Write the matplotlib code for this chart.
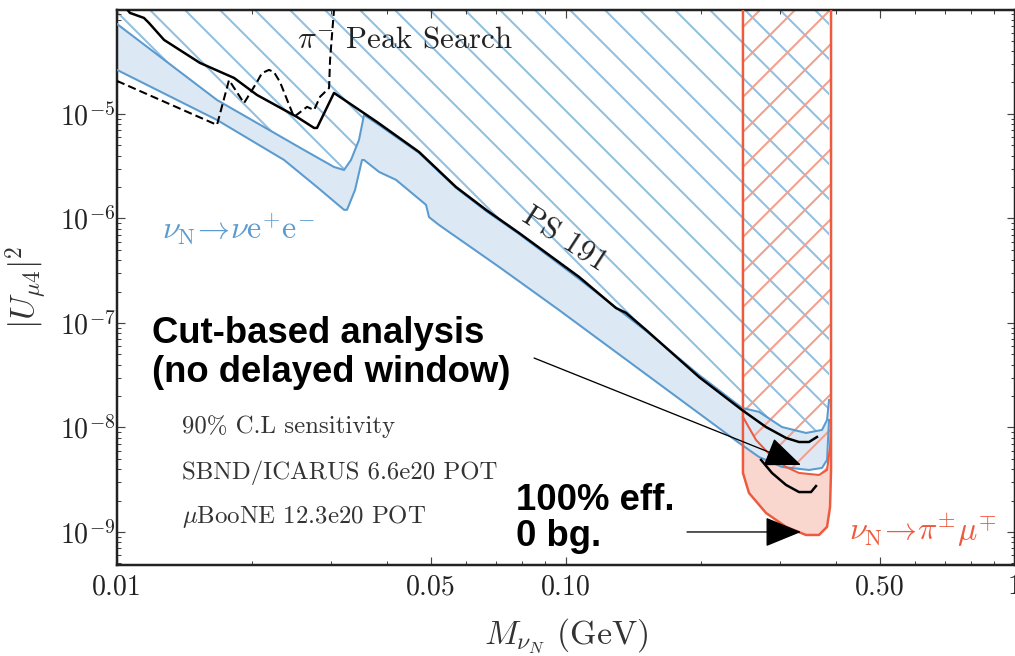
import matplotlib
matplotlib.use("Agg")
import matplotlib.pyplot as plt
import numpy as np
from matplotlib.ticker import LogLocator, NullFormatter

# fonts: computer modern look for the plot, arial-like for the bold notes
plt.rcParams['font.family'] = 'cmr10'
plt.rcParams['mathtext.fontset'] = 'cm'
plt.rcParams['axes.formatter.use_mathtext'] = True
plt.rcParams['hatch.linewidth'] = 0.7

# PS191 limit (black solid)
mass_ps191 = [0.01053, 0.01069, 0.01148, 0.01178, 0.01273, 0.0153, 0.01823, 0.0205, 0.02517,
              0.02747, 0.02789, 0.03043, 0.03794, 0.04706, 0.05689, 0.06635, 0.07858, 0.1069,
              0.1292, 0.1360, 0.1508, 0.1978, 0.2466, 0.2789, 0.3090, 0.3303, 0.3477, 0.3622]
u_ps191 = [1.0e-4, 9.26e-5, 8.30e-5, 7.43e-5, 5.11e-5, 3.08e-5, 2.21e-5, 1.52e-5, 9.36e-6,
           7.35e-6, 7.35e-6, 1.59e-5, 8.38e-6, 4.33e-6, 2.00e-6, 1.21e-6, 7.27e-7, 2.76e-7,
           1.39e-7, 1.25e-7, 8.57e-8, 3.04e-8, 1.47e-8, 1.01e-8, 7.94e-9, 7.26e-9, 7.26e-9, 8.11e-9]

# pi- peak search (black dashed)
mass_peak = [0.0100, 0.0167, 0.01776, 0.01918, 0.0205, 0.02103, 0.0218, 0.02236, 0.02307,
             0.02478, 0.0265, 0.02747, 0.02833, 0.02967, 0.02982, 0.03043]
u_peak = [2.07e-5, 7.85e-6, 2.11e-5, 1.27e-5, 2.02e-5, 2.46e-5, 2.64e-5, 2.52e-5, 2.02e-5,
          9.36e-6, 1.17e-5, 1.09e-5, 1.46e-5, 1.77e-5, 3.29e-5, 1.0e-4]

# nu_N -> nu e+ e- band, upper and lower edge
mass_ee_hi = [0.0100, 0.0167, 0.02609, 0.03043, 0.03204, 0.0332, 0.03459, 0.03549, 0.03833,
              0.04706, 0.05689, 0.06635, 0.07858, 0.1069, 0.1508, 0.1978, 0.2466, 0.2691,
              0.3027, 0.3424, 0.3717, 0.3814, 0.3853]
u_ee_hi = [7.26e-5, 1.36e-5, 4.52e-6, 3.11e-6, 2.91e-6, 3.63e-6, 5.64e-6, 9.78e-6, 7.85e-6,
           4.24e-6, 1.96e-6, 1.18e-6, 7.11e-7, 2.64e-7, 8.38e-8, 3.18e-8, 1.54e-8, 1.41e-8,
           1.01e-8, 8.86e-9, 9.47e-9, 1.18e-8, 1.83e-8]
mass_ee_lo = [0.0100, 0.0167, 0.02355, 0.02789, 0.03204, 0.03253, 0.03389, 0.03513, 0.03549,
              0.03833, 0.04183, 0.04878, 0.04954, 0.05213, 0.07093, 0.09647, 0.2429, 0.2691,
              0.3027, 0.3477, 0.3717, 0.3814, 0.3853]
u_ee_lo = [2.64e-5, 8.76e-6, 3.63e-6, 2.00e-6, 1.21e-6, 1.21e-6, 1.87e-6, 3.63e-6, 3.63e-6,
           2.79e-6, 2.34e-6, 1.35e-6, 1.03e-6, 8.67e-7, 3.44e-7, 1.33e-7, 7.11e-9, 5.22e-9,
           4.19e-9, 3.92e-9, 4.10e-9, 4.89e-9, 1.18e-8]

# nu_N -> pi mu region, outer (100% eff) and inner edge
red_outer_x = [0.2478, 0.2478, 0.2556, 0.2789, 0.3090, 0.3424, 0.3660, 0.3814, 0.3873, 0.3893, 0.3893]
red_outer_y = [1.0e-4, 3.67e-9, 2.36e-9, 1.52e-9, 1.12e-9, 9.36e-10, 9.36e-10, 1.12e-9, 1.73e-9, 3.92e-9, 1.0e-4]
red_inner_x = [0.2478, 0.2650, 0.2876, 0.3090, 0.3303, 0.3660, 0.3814, 0.3873, 0.3893]
red_inner_y = [1.26e-8, 7.59e-9, 5.22e-9, 4.19e-9, 3.67e-9, 3.51e-9, 3.92e-9, 6.51e-9, 1.0e-8]

# cut-based analysis curve (black, short)
mass_cut = [0.2719, 0.2876, 0.3090, 0.3303, 0.3513, 0.3604]
u_cut = [4.89e-9, 3.67e-9, 2.82e-9, 2.41e-9, 2.41e-9, 2.75e-9]

xtick_vals = [0.01, 0.05, 0.1, 0.5, 1.0]
xtick_labels = ['0.01', '0.05', '0.10', '0.50', '1']
ytick_vals = [1e-9, 1e-8, 1e-7, 1e-6, 1e-5]
ytick_labels = [r'$10^{-9}$', r'$10^{-8}$', r'$10^{-7}$', r'$10^{-6}$', r'$10^{-5}$']

blue = '#5b9bd0'
blue_fill = '#dce9f4'
blue_hatch = '#93bfe0'
red = '#ee5a3e'
red_fill = '#f9d6ce'
red_hatch = '#f2a08e'
grey = '#333333'

y_top = 1.0e-4

DPI = 210
fig = plt.figure(figsize=(1016 / DPI, 656 / DPI), dpi=DPI)
ax = fig.add_axes([117 / 1016, 91 / 656, 898 / 1016, 555 / 656])
ax.set_xscale('log')
ax.set_yscale('log')
ax.set_xlim(0.01, 1.0)
ax.set_ylim(4.83e-10, 9.88e-5)

# hatched regions
ax.fill(np.r_[mass_ee_hi, mass_ee_hi[-1], mass_ee_hi[0]], np.r_[u_ee_hi, y_top, y_top],
        facecolor='none', edgecolor=blue_hatch, hatch='\\\\', lw=0, zorder=1)
ax.fill(np.r_[red_inner_x, red_outer_x[1:-1][::-1]], np.r_[red_inner_y, red_outer_y[1:-1][::-1]],
        color=red_fill, lw=0, zorder=1.5)
ax.fill(np.r_[mass_ee_hi, mass_ee_lo[::-1]], np.r_[u_ee_hi, u_ee_lo[::-1]],
        color=blue_fill, lw=0, zorder=2)
ax.fill(np.r_[red_inner_x, red_inner_x[-1], red_inner_x[0]], np.r_[red_inner_y, y_top, y_top],
        facecolor='none', edgecolor=red_hatch, hatch='//', lw=0, zorder=2.5)

# edges
ax.plot(mass_ee_hi, u_ee_hi, color=blue, lw=0.7, zorder=3)
ax.plot(mass_ee_lo, u_ee_lo, color=blue, lw=0.7, zorder=3)
ax.plot(red_outer_x, red_outer_y, color=red, lw=0.85, zorder=3)
ax.plot(red_inner_x, red_inner_y, color=red, lw=0.7, zorder=3)

ax.plot(mass_ps191, u_ps191, color='k', lw=0.85, zorder=4)
ax.plot(mass_peak, u_peak, color='k', lw=0.7, dashes=(4, 2), zorder=4)
ax.plot(mass_cut, u_cut, color='k', lw=0.85, zorder=4)

# labels on the plot
ax.text(0.02517, 5.11e-5, r'$\pi^{-}$ Peak Search', fontsize=10.6, color='#222222',
        ha='left', va='center', zorder=5)
ax.text(0.0990, 6.22e-7, 'PS 191', fontsize=10.6, color='#222222', rotation=-33,
        rotation_mode='anchor', ha='center', va='center', zorder=5)
ax.text(0.01259, 6.22e-7, r'$\nu_{\rm N}\!\rightarrow\!\nu{\rm e}^{+}{\rm e}^{-}$',
        fontsize=11, color=blue, ha='left', va='baseline', zorder=5)
ax.text(0.4270, 8.37e-10, r'$\nu_{\rm N}\!\rightarrow\!\pi^{\pm}\mu^{\mp}$',
        fontsize=11, color=red, ha='left', va='baseline', zorder=5)

ax.text(0.0724, 0.238, '90% C.L sensitivity', transform=ax.transAxes, fontsize=8.5, color=grey)
ax.text(0.0724, 0.155, 'SBND/ICARUS 6.6e20 POT', transform=ax.transAxes, fontsize=8.5, color=grey)
ax.text(0.0724, 0.0757, r'$\mu$BooNE 12.3e20 POT', transform=ax.transAxes, fontsize=8.5, color=grey)

bold = dict(family='Liberation Sans', weight='bold', fontsize=12.5, color='k',
            transform=ax.transAxes, zorder=6)
ax.text(0.039, 0.400, 'Cut-based analysis', **bold)
ax.text(0.039, 0.330, '(no delayed window)', **bold)
ax.text(0.4443, 0.0991, '100% eff.', **bold)
ax.text(0.4443, 0.0342, '0 bg.', **bold)

arrow = dict(arrowstyle='-|>,head_length=1.1,head_width=0.45', mutation_scale=10,
             color='k', lw=0.45, shrinkA=0, shrinkB=0)
ax.annotate('', xy=(0.3337, 4.38e-9), xytext=(0.0849, 4.62e-8), arrowprops=arrow, zorder=6)
ax.annotate('', xy=(0.3337, 1.0e-9), xytext=(0.1860, 1.0e-9), arrowprops=arrow, zorder=6)

# axes and ticks
ax.set_xticks(xtick_vals)
ax.set_xticklabels(xtick_labels)
ax.set_yticks(ytick_vals)
ax.set_yticklabels(ytick_labels)
ax.xaxis.set_minor_locator(LogLocator(base=10, subs=np.arange(2, 10), numticks=20))
ax.yaxis.set_minor_locator(LogLocator(base=10, subs=np.arange(2, 10), numticks=20))
ax.xaxis.set_minor_formatter(NullFormatter())
ax.yaxis.set_minor_formatter(NullFormatter())
ax.tick_params(which='both', direction='in', top=True, right=True, colors='#444444',
               labelcolor='#222222', labelsize=9.6)
ax.tick_params(which='major', length=2.7, width=0.4)
ax.tick_params(which='minor', length=1.4, width=0.35)
ax.tick_params(axis='x', pad=3)
ax.tick_params(axis='y', pad=0.5)
for s in ax.spines.values():
    s.set_linewidth(0.85)
    s.set_color('#222222')

ax.set_xlabel(r'$M_{\nu_N}$ (GeV)', fontsize=11.6, color=grey, labelpad=5.5)
ax.set_ylabel(r'$|U_{\mu 4}|^2$', fontsize=11.5, color=grey, labelpad=3.4)

fig.savefig('out.png', dpi=DPI)
